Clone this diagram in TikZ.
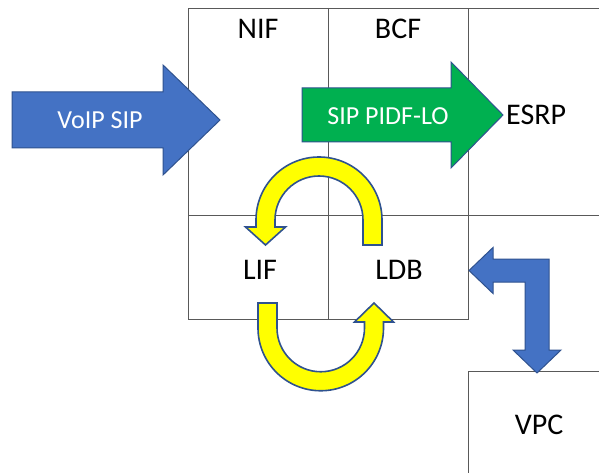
\documentclass[tikz,border=0pt]{standalone}
\usepackage{fontspec}
\setsansfont{Carlito}
\usepackage{tikz}
\usetikzlibrary{positioning}
\definecolor{ngBlue}{HTML}{4472C4}
\definecolor{ngEdge}{HTML}{2F528F}
\definecolor{ngGreen}{HTML}{00B050}
\definecolor{ngYellow}{HTML}{FFFF00}
\definecolor{ngGrid}{HTML}{595959}
\tikzset{
  ng diagram/.style={x=1pt, y=-1pt, font=\sffamily, line join=miter},
  ng grid/.style={draw=ngGrid, line width=0.9pt},
  ng label/.style={font=\sffamily\fontsize{30}{33}\selectfont, text=black, inner sep=0pt},
  ng arrow text/.style={font=\sffamily\fontsize{26}{29}\selectfont, text=white, inner sep=0pt},
  ng block/.style={fill=ngBlue, draw=ngEdge, line width=1pt},
  ng pass/.style={ng block, fill=ngGreen},
  ng loop/.style={ng block, fill=ngYellow, line width=1.6pt}
}

\begin{document}
\begin{tikzpicture}[ng diagram]
\useasboundingbox[fill=white] (0,0) rectangle (599,473);
% grid of functional elements
\draw[ng grid] (599,8) -- (188,8) -- (188,319) -- (468,319) -- (468,8);
\draw[ng grid] (328,8) -- (328,319);
\draw[ng grid] (188,215) -- (599,215);
\draw[ng grid] (599,371) -- (468,371) -- (468,473);
\node[ng label] (nif) at (258,29) {NIF};
\node[ng label] (bcf) at (398,29) {BCF};
\node[ng label] (lif) at (260,270) {LIF};
\node[ng label] (ldb) at (399,270) {LDB};
\node[ng label] (vpc) at (539,425) {VPC};
% incoming call
\draw[ng block] (12,92) -- (163,92) -- (163,65) -- (220,120) -- (163,175)
  -- (163,148) -- (12,148) -- cycle;
\node[ng arrow text] (voip) at (100,120) {VoIP SIP};
% routed to ESRP
\draw[ng pass] (302,88) -- (451,88) -- (451,62) -- (503,115) -- (451,168)
  -- (451,142) -- (302,142) -- cycle;
\coordinate (pidf tip) at (503,115);
\node[ng arrow text] (pidf) at (388,116) {SIP PIDF-LO};
\node[ng label,right=3pt of pidf tip] (esrp) {ESRP};
% LIF / LDB exchange
\draw[ng loop] (382,245) -- (382,220) arc[start angle=0, end angle=-180, radius=63]
  -- (256,227) -- (245.5,227) -- (265.5,245) -- (285.5,227) -- (275,227) -- (275,220)
  arc[start angle=-180, end angle=0, radius=44] -- (363,245) -- cycle;
\draw[ng loop] (258,303) -- (258,328) arc[start angle=180, end angle=0, radius=62.75]
  -- (383.5,322) -- (393.5,322) -- (374,303) -- (354.5,322) -- (364.5,322) -- (364.5,328)
  arc[start angle=0, end angle=180, radius=43.75] -- (277,303) -- cycle;
% LDB <-> VPC
\draw[ng block] (469,270.5) -- (493,247.5) -- (493,259) -- (549,259) -- (549,350)
  -- (561,350) -- (537,373) -- (513,350) -- (525,350) -- (525,282) -- (493,282)
  -- (493,293.5) -- cycle;
\end{tikzpicture}
\end{document}
